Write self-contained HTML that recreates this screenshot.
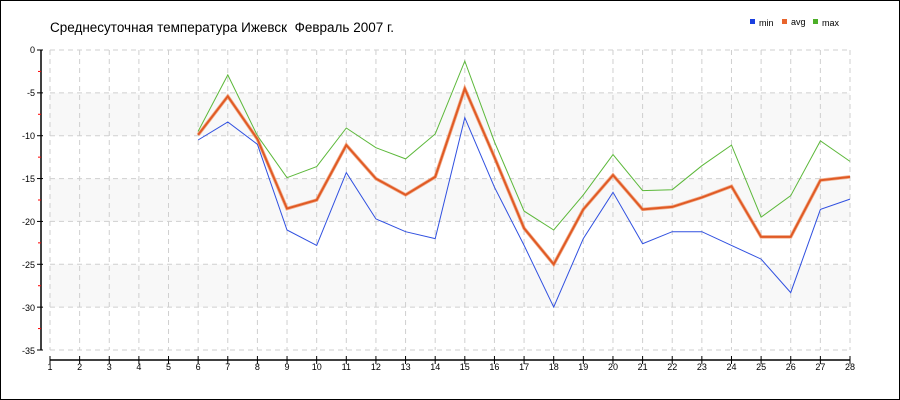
<!DOCTYPE html>
<html><head><meta charset="utf-8"><style>
body{margin:0;background:#fff;}
svg{display:block;font-family:"Liberation Sans",sans-serif;}
</style></head><body>
<svg id="s" width="900" height="400" viewBox="0 0 900 400">
<rect x="0.5" y="0.5" width="899" height="399" fill="#fff" stroke="#000"/>
<text x="50" y="32" font-size="13.5" fill="#000" xml:space="preserve">Среднесуточная температура Ижевск  Февраль 2007 г.</text>
<rect x="750" y="19" width="5" height="5" fill="#1a3fe0"/><text x="759" y="26" font-size="9">min</text>
<rect x="782" y="19" width="5" height="5" fill="#e8642c"/><text x="791" y="25" font-size="9">avg</text>
<rect x="813" y="19" width="5" height="5" fill="#4caf28"/><text x="822" y="26" font-size="9">max</text>
<g fill="#f8f8f8">
<rect x="50" y="92.9" width="800" height="42.9"/>
<rect x="50" y="178.6" width="800" height="42.9"/>
<rect x="50" y="264.3" width="800" height="42.9"/>
</g>
<g id="grid" stroke="#cfcfcf" stroke-dasharray="5,4" stroke-width="1"></g>
<g stroke="#000" stroke-width="1.5">
<line x1="41" y1="50" x2="41" y2="350"/>
<line x1="50" y1="360" x2="850" y2="360"/>
</g>
<g id="ticks"></g>
<g font-size="9" text-anchor="end">
<text x="35" y="53">0</text><text x="35" y="96">-5</text><text x="35" y="139">-10</text>
<text x="35" y="182">-15</text><text x="35" y="225">-20</text><text x="35" y="268">-25</text>
<text x="35" y="311">-30</text><text x="35" y="354">-35</text>
</g>
<g font-size="9" text-anchor="middle">
<text x="50.0" y="370">1</text><text x="79.6" y="370">2</text><text x="109.3" y="370">3</text><text x="138.9" y="370">4</text><text x="168.5" y="370">5</text><text x="198.1" y="370">6</text><text x="227.8" y="370">7</text><text x="257.4" y="370">8</text><text x="287.0" y="370">9</text><text x="316.7" y="370">10</text><text x="346.3" y="370">11</text><text x="375.9" y="370">12</text><text x="405.6" y="370">13</text><text x="435.2" y="370">14</text><text x="464.8" y="370">15</text><text x="494.4" y="370">16</text><text x="524.1" y="370">17</text><text x="553.7" y="370">18</text><text x="583.3" y="370">19</text><text x="613.0" y="370">20</text><text x="642.6" y="370">21</text><text x="672.2" y="370">22</text><text x="701.9" y="370">23</text><text x="731.5" y="370">24</text><text x="761.1" y="370">25</text><text x="790.7" y="370">26</text><text x="820.4" y="370">27</text><text x="850.0" y="370">28</text>
</g>
<polyline id="pmax" fill="none" stroke="#5cb83a" stroke-width="1"/>
<polyline id="pavg2" fill="none" stroke="#f2b090" stroke-width="3.5"/>
<polyline id="pavg" fill="none" stroke="#e05a24" stroke-width="2"/>
<polyline id="pmin" fill="none" stroke="#3050e0" stroke-width="1"/>
</svg>
<script>
var X=function(d){return 50+(d-1)*800/27;},Y=function(v){return 50-v*300/35;};
var ns="http://www.w3.org/2000/svg",g=document.getElementById('grid'),t=document.getElementById('ticks');
function L(p,a){var l=document.createElementNS(ns,'line');for(var k in a)l.setAttribute(k,a[k]);p.appendChild(l);}
for(var v=0;v>=-35;v-=5){L(g,{x1:50,x2:850,y1:Y(v),y2:Y(v)});L(t,{x1:37,x2:43,y1:Y(v),y2:Y(v),stroke:'#000'});}
for(v=-2.5;v>-35;v-=5)L(t,{x1:38,x2:41,y1:Y(v),y2:Y(v),stroke:'#f00'});
for(var d=1;d<=28;d++){L(g,{x1:X(d),x2:X(d),y1:50,y2:350});L(t,{x1:X(d),x2:X(d),y1:356,y2:364,stroke:'#000'});}
var mn=[-10.5,-8.4,-11,-21,-22.8,-14.3,-19.7,-21.2,-22,-7.9,-16,-22.8,-30,-22,-16.6,-22.6,-21.2,-21.2,-22.8,-24.4,-28.3,-18.6,-17.4];
var av=[-9.9,-5.4,-10.4,-18.5,-17.5,-11.1,-15,-16.9,-14.8,-4.5,-12.5,-20.8,-25,-18.6,-14.6,-18.6,-18.3,-17.2,-15.9,-21.8,-21.8,-15.2,-14.8];
var mx=[-9.5,-2.9,-10,-14.9,-13.6,-9.1,-11.4,-12.7,-9.8,-1.3,-10.7,-18.8,-21,-16.9,-12.2,-16.4,-16.3,-13.5,-11.1,-19.5,-17,-10.6,-13];
function P(a){return a.map(function(v,i){return X(i+6).toFixed(1)+','+Y(v).toFixed(1);}).join(' ');}
document.getElementById('pmin').setAttribute('points',P(mn));
document.getElementById('pavg').setAttribute('points',P(av));
document.getElementById('pavg2').setAttribute('points',P(av));
document.getElementById('pmax').setAttribute('points',P(mx));
</script>
</body></html>
